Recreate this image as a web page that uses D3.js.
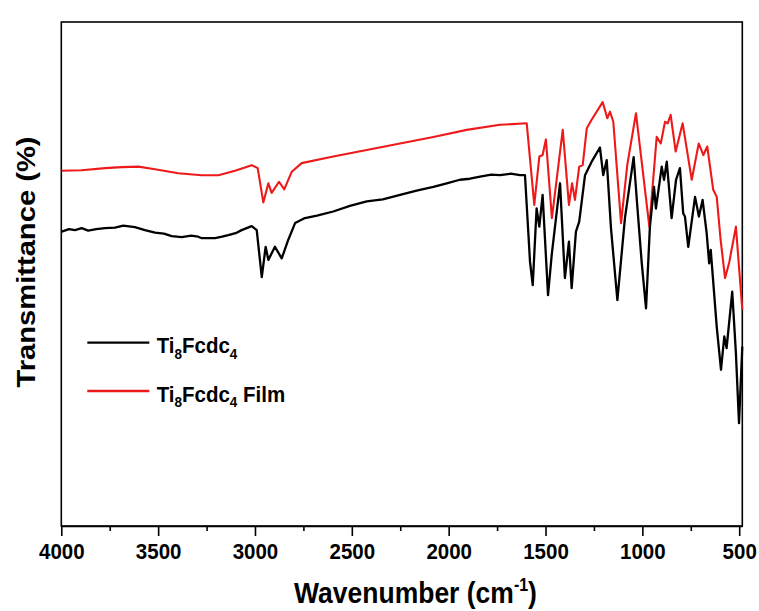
<!DOCTYPE html>
<html>
<head>
<meta charset="utf-8">
<script src="https://cdn.jsdelivr.net/npm/d3@7"></script>
<style>
  html, body { margin: 0; padding: 0; background: #ffffff; }
  svg { display: block; }
  text { font-family: "Liberation Sans", Arial, sans-serif; font-weight: bold; fill: #000; }
</style>
</head>
<body>
<svg id="chart" width="759" height="611"></svg>
<script>
// ---- data ----
const seriesNames = ["Ti8Fcdc4", "Ti8Fcdc4 Film"];
const seriesColors = ["#000000", "#ee1a1a"];

const xTicks = [4000, 3500, 3000, 2500, 2000, 1500, 1000, 500];
const xMinorTicks = [3750, 3250, 2750, 2250, 1750, 1250, 750];

const blackWn = [3998, 3960, 3929, 3895, 3861, 3820, 3774, 3723, 3680, 3620, 3568, 3516, 3470, 3430, 3378, 3330, 3293, 3275, 3206, 3170, 3138, 3100, 3069, 3017, 2991, 2965, 2945, 2931, 2897, 2862, 2828, 2793, 2742, 2680, 2596, 2510, 2423, 2340, 2251, 2160, 2079, 2010, 1942, 1890, 1838, 1780, 1735, 1680, 1632, 1606, 1580, 1566, 1546, 1532, 1515, 1487, 1468, 1425, 1400, 1379, 1365, 1343, 1326, 1296, 1260, 1219, 1202, 1184, 1162, 1129, 1090, 1045, 1026, 1003, 981, 961, 940, 930, 900, 888, 874, 849, 826, 806, 789, 780, 763, 728, 708, 689, 668, 655, 647, 616, 594, 577, 565, 536, 517, 501, 484];
const blackT = [58.4, 58.9, 58.7, 59.1, 58.6, 58.9, 59.1, 59.2, 59.6, 59.3, 58.7, 58.2, 58.0, 57.5, 57.3, 57.6, 57.4, 57.1, 57.1, 57.4, 57.7, 58.1, 58.7, 59.5, 58.7, 49.4, 55.4, 52.8, 55.4, 53.1, 56.8, 60.1, 61.1, 61.6, 62.4, 63.5, 64.4, 64.8, 65.7, 66.6, 67.3, 68.0, 68.7, 68.9, 69.3, 69.7, 69.6, 69.9, 69.6, 69.6, 52.4, 47.8, 63.0, 59.4, 65.7, 45.8, 53.8, 68.0, 49.2, 56.4, 47.2, 58.4, 60.4, 69.6, 72.4, 75.1, 69.6, 72.6, 59.1, 44.8, 61.1, 73.2, 63.4, 52.1, 43.2, 59.4, 67.3, 63.0, 71.3, 68.7, 72.3, 61.1, 68.7, 71.0, 62.0, 61.4, 55.4, 65.3, 61.4, 64.7, 58.1, 52.1, 54.8, 39.5, 31.0, 37.6, 35.3, 46.5, 34.3, 20.4, 35.6];

const redWn = [3998, 3895, 3774, 3688, 3602, 3516, 3396, 3275, 3189, 3103, 3017, 2986, 2957, 2931, 2914, 2876, 2849, 2810, 2759, 2596, 2423, 2251, 2079, 1907, 1735, 1597, 1558, 1532, 1515, 1498, 1467, 1411, 1379, 1363, 1348, 1326, 1308, 1287, 1262, 1205, 1181, 1167, 1150, 1110, 1078, 1033, 964, 926, 905, 883, 869, 854, 828, 792, 745, 709, 685, 665, 634, 616, 596, 573, 551, 517, 484];
const redT = [70.5, 70.6, 71.0, 71.2, 71.3, 70.8, 70.0, 69.6, 69.6, 70.5, 71.6, 71.0, 64.2, 68.0, 66.1, 68.3, 66.8, 70.3, 72.0, 73.3, 74.6, 75.9, 77.2, 78.6, 79.6, 79.9, 63.7, 73.3, 73.6, 76.7, 61.1, 78.6, 63.7, 68.0, 64.7, 71.3, 71.6, 78.9, 80.6, 84.1, 80.9, 82.2, 80.2, 60.1, 71.6, 81.9, 59.4, 77.2, 75.9, 80.2, 79.9, 81.6, 74.3, 79.9, 68.7, 75.9, 73.6, 75.3, 66.7, 65.3, 56.8, 49.2, 52.4, 59.4, 42.9];

// ---- layout ----
const svg = d3.select("#chart");
const plot = { left: 61.3, right: 742.3, top: 22, bottom: 526 };
const STRETCH = 1.1;

const x = d3.scaleLinear().domain([4000, 484]).range([plot.left, plot.right]);
const y = d3.scaleLinear().domain([0, 100]).range([plot.bottom, plot.top]);

// frame
svg.append("rect")
  .attr("x", plot.left).attr("y", plot.top)
  .attr("width", plot.right - plot.left).attr("height", plot.bottom - plot.top)
  .attr("fill", "none").attr("stroke", "#000").attr("stroke-width", 1.6);

// series
const line = d3.line().x(d => x(d[0])).y(d => y(d[1]));
const series = [
  { wn: blackWn, t: blackT, color: seriesColors[0], w: 2.3 },
  { wn: redWn, t: redT, color: seriesColors[1], w: 2.1 }
];
series.slice().reverse().forEach(s => {
  const pts = s.wn.map((w, i) => [w, s.t[i]]);
  svg.append("path").datum(pts)
    .attr("d", line)
    .attr("fill", "none")
    .attr("stroke", s.color)
    .attr("stroke-width", s.w)
    .attr("stroke-linejoin", "round");
});

// x axis (major + minor)
const gx = svg.append("g").attr("transform", `translate(0,${plot.bottom})`)
  .call(d3.axisBottom(x).tickValues(xTicks).tickSize(10).tickSizeOuter(0).tickFormat(d3.format("d")));
gx.select(".domain").attr("stroke-width", 1.6);
gx.selectAll(".tick line").attr("stroke-width", 1.6);
gx.selectAll(".tick text")
  .attr("y", null).attr("dy", null)
  .attr("transform", `translate(0,33) scale(1,${STRETCH})`)
  .style("font-size", "20.5px")
  .style("font-family", '"Liberation Sans", Arial, sans-serif')
  .style("font-weight", "bold")
  .attr("fill", "#000");

const gxm = svg.append("g").attr("transform", `translate(0,${plot.bottom})`)
  .call(d3.axisBottom(x).tickValues(xMinorTicks).tickSize(5).tickSizeOuter(0).tickFormat(""));
gxm.select(".domain").remove();
gxm.selectAll(".tick line").attr("stroke-width", 1.6);

// x title
const xt = svg.append("text")
  .attr("transform", `translate(415.5,603) scale(1,${STRETCH})`)
  .attr("text-anchor", "middle")
  .style("font-size", "26.5px");
xt.append("tspan").text("Wavenumber (cm");
xt.append("tspan").attr("dy", -11).style("font-size", "16px").text("-1");
xt.append("tspan").attr("dy", 11).text(")");

// y title
svg.append("text")
  .attr("transform", `translate(35,262) scale(1,${STRETCH}) rotate(-90)`)
  .attr("text-anchor", "middle")
  .style("font-size", "26.5px")
  .text("Transmittance (%)");

// legend
const legendY = [342.7, 391];
seriesNames.forEach((name, i) => {
  svg.append("line")
    .attr("x1", 87.3).attr("x2", 149.3)
    .attr("y1", legendY[i]).attr("y2", legendY[i])
    .attr("stroke", seriesColors[i]).attr("stroke-width", 2.3);
  const t = svg.append("text")
    .attr("transform", `translate(156.7,${legendY[i] + 10.7}) scale(1,${STRETCH})`)
    .style("font-size", "20.5px");
  // digits rendered as subscripts
  const parts = name.match(/(\d+|[^\d]+)/g);
  let sub = false;
  parts.forEach(p => {
    const isDigit = /^\d+$/.test(p);
    const ts = t.append("tspan").text(p);
    if (isDigit && !sub) { ts.attr("dy", 5).style("font-size", "13.5px"); sub = true; }
    else if (!isDigit && sub) { ts.attr("dy", -5); sub = false; }
  });
});
</script>
</body>
</html>
